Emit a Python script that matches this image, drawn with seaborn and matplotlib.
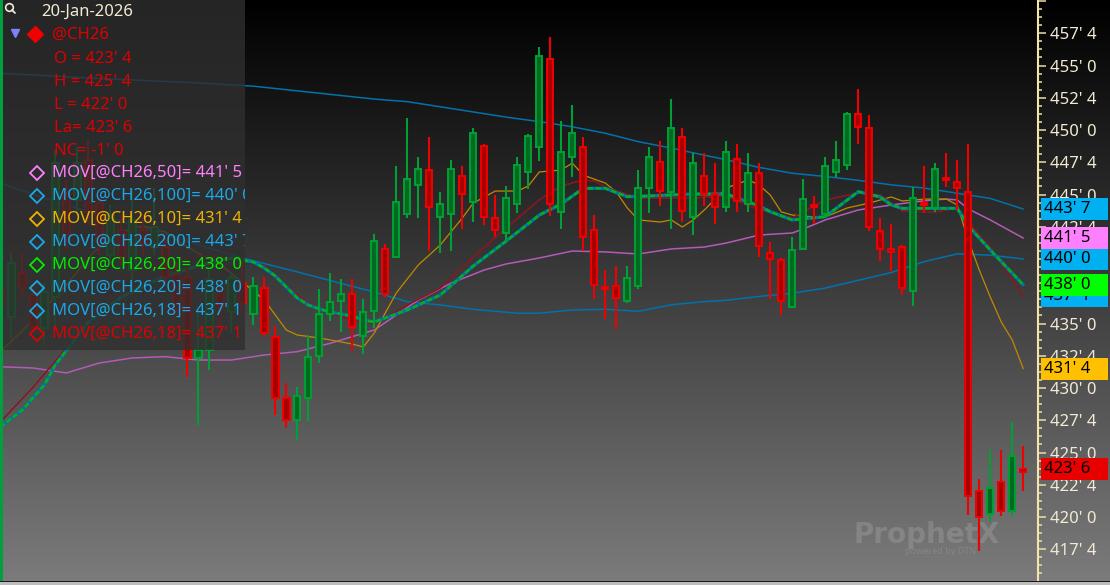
import matplotlib
matplotlib.use('Agg')
import matplotlib.pyplot as plt
import matplotlib.patches as mpatches
from matplotlib.lines import Line2D
from matplotlib.colors import LinearSegmentedColormap
from matplotlib.ticker import MultipleLocator, FuncFormatter
from matplotlib.transforms import blended_transform_factory
import numpy as np
import seaborn as sns

sns.set_theme(style='dark')
plt.rcParams['font.family'] = ['Noto Sans', 'DejaVu Sans']

# daily bars for @CH26 (price in cents, eighths shown on axis)
opens = [437.75, 435.51, 438.92, 437.21, 434.65, 437.06, 445.12, 444.58, 447.68, 444.34,
         440.31, 442.25, 439.15, 442.25, 440.93, 440.93, 438.76, 438.61, 432.33, 432.95,
         437.44, 435.89, 438.14, 435.74, 437.73, 433.98, 429.2, 427.52, 429.2, 432.48,
         435.74, 436.75, 437.27, 434.06, 435.99, 440.75, 440.18, 443.47, 445.74, 446.9,
         443.26, 443.47, 446.46, 444.44, 448.74, 443.2, 441.99, 444.24, 446.72, 448.71,
         455.48, 443.67, 447.93, 448.71, 442.25, 437.83, 437.91, 436.75, 437.93, 445.48,
         447.5, 445.22, 449.48, 443.28, 446.46, 445.02, 444.01, 447.73, 444.27, 446.69,
         440.49, 439.92, 436.26, 440.78, 444.21, 443.49, 446.77, 447.29, 451.22, 450.18,
         442.2, 440.74, 440.96, 437.55, 444.32, 443.98, 446.3, 445.99, 445.22, 422.02,
         420.21, 422.69, 420.47, 423.5]
highs = [438.22, 440.47, 440.47, 437.83, 438.14, 448.45, 446.13, 448.68, 449.23, 444.96,
         444.19, 443.41, 445.51, 443.41, 445.51, 441.86, 439.77, 439.3, 435.82, 439.15,
         438.22, 438.99, 440.08, 438.61, 438.63, 434.83, 430.39, 430.1, 434.11, 437.65,
         438.89, 438.45, 438.45, 436.9, 441.94, 441.16, 447.21, 450.91, 447.91, 449.44,
         445.17, 447.68, 447.21, 450.13, 448.92, 444.96, 445.66, 447.93, 449.69, 456.46,
         457.23, 450.72, 451.94, 449.48, 443.41, 439.15, 439.46, 439.46, 446.9, 448.71,
         449.15, 452.41, 450.13, 448.2, 448.2, 447.42, 449.15, 448.92, 448.2, 447.42,
         441.34, 440.1, 441.68, 446.18, 444.91, 447.89, 449.15, 451.42, 453.16, 451.17,
         443.16, 442.72, 441.1, 445.61, 447.21, 447.42, 448.2, 447.68, 448.92, 422.92,
         425.2, 425.2, 427.39, 425.5]
lows = [435.89, 433.72, 436.9, 434.34, 433.34, 434.5, 440.7, 443.41, 442.64, 440.31,
        439.77, 439.54, 437.6, 440.31, 440.31, 437.99, 435.43, 430.85, 427.13, 431.4,
        434.5, 434.27, 435.66, 434.89, 433.98, 427.91, 426.9, 425.97, 427.47, 431.96,
        435.22, 434.37, 432.89, 432.64, 434.65, 437.08, 440.06, 443.16, 443.16, 440.65,
        440.44, 440.65, 442.35, 442.89, 442.64, 441.68, 441.34, 443.59, 445.41, 447.62,
        443.36, 442.33, 446.38, 440.65, 436.88, 435.35, 434.58, 436.61, 437.65, 443.59,
        444.13, 442.33, 442.89, 441.89, 444.13, 442.69, 443.62, 443.62, 443.62, 440.13,
        436.9, 435.66, 436.18, 440.7, 442.69, 443.16, 446.38, 446.9, 448.89, 442.17,
        439.87, 439.1, 437.21, 436.38, 443.59, 443.65, 445.61, 443.8, 420.16, 417.39,
        419.64, 420.1, 420.1, 422.0]
closes = [436.44, 439.69, 437.75, 434.73, 437.44, 447.44, 441.86, 447.44, 443.65, 441.48,
          443.41, 440.16, 443.03, 441.24, 442.48, 438.61, 436.05, 432.33, 432.95, 438.37,
          436.2, 438.53, 436.59, 437.91, 434.24, 429.2, 427.52, 429.38, 432.43, 435.72,
          436.69, 437.27, 434.75, 435.92, 441.42, 437.27, 444.44, 446.23, 446.96, 444.06,
          444.24, 446.96, 445.04, 449.75, 443.26, 442.25, 444.71, 447.29, 449.54, 455.74,
          444.24, 448.27, 449.75, 441.73, 437.99, 437.64, 437.0, 438.51, 445.48, 447.93,
          445.27, 450.18, 443.72, 447.47, 445.02, 444.06, 448.27, 444.5, 446.69, 441.03,
          440.0, 436.77, 440.7, 444.68, 444.06, 447.23, 447.68, 451.22, 450.26, 442.51,
          440.78, 440.58, 437.73, 444.71, 444.16, 446.96, 446.15, 445.48, 421.65, 419.98,
          422.23, 420.47, 424.75, 423.75]

# moving averages at bar positions
ma200_x = [0, 9, 18, 23, 34, 37, 40, 43, 46, 49, 52, 55, 58, 61, 64, 66, 69, 72, 75, 78, 81, 84, 87, 90, 93]
ma200_y = [454.4, 454.0, 453.65, 453.4, 452.4, 452.2, 451.8, 451.4, 451.0, 450.65, 450.25, 449.75, 449.1,
           448.6, 448.05, 447.7, 447.1, 446.65, 446.4, 446.1, 445.75, 445.5, 445.1, 444.7, 443.875]
ma100_x = [0, 4.5, 10.5, 14.5, 18, 22, 27, 34, 37, 40, 43, 47, 49, 52, 55, 58, 61, 64, 66, 69, 72, 75,
           78, 81, 84, 87, 90, 93]
ma100_y = [445.89, 444.58, 443.03, 442.1, 441.09, 440.08, 439.0, 437.44, 436.69, 436.44, 436.1, 435.8,
           435.8, 436.05, 436.1, 435.95, 436.45, 436.7, 436.8, 437.1, 437.35, 437.75, 438.35, 438.95,
           439.8, 440.4, 440.3, 440.0]
ma50_x = [0, 3, 6, 9, 12, 15, 18, 21, 24, 27, 30, 34, 38, 41, 44, 46, 49, 52, 55, 58, 61, 64, 66, 69,
          72, 73, 75, 78, 81, 84, 86, 87, 88, 90, 93]
ma50_y = [431.65, 431.55, 431.17, 431.94, 432.33, 432.43, 432.17, 432.17, 432.56, 432.82, 433.47, 434.5,
          436.82, 438.14, 439.15, 439.62, 440.08, 440.62, 440.55, 440.39, 440.78, 440.93, 441.24, 441.86,
          442.02, 442.33, 443.03, 443.8, 444.19, 444.52, 444.65, 444.58, 443.88, 443.03, 441.625]
ma20_x = [0, 2, 4, 5, 8, 11, 15, 18, 21, 23, 24, 25, 26, 27, 28, 29, 30, 32, 33, 34, 37, 40, 43, 46,
          49, 51, 53, 55, 57, 59, 63, 66, 69, 70, 72, 75, 77, 78, 80, 81, 82, 87, 88, 90, 93]
ma20_y = [426.98, 428.3, 430.24, 431.79, 435.12, 437.06, 438.68, 439.46, 440.08, 439.77, 439.3, 438.68,
          437.83, 436.98, 436.44, 436.13, 435.89, 435.58, 435.27, 435.12, 436.05, 437.21, 439.46, 441.4,
          443.41, 444.27, 445.48, 445.48, 444.83, 444.89, 445.04, 445.04, 444.11, 443.67, 443.03, 443.28,
          444.58, 445.22, 444.81, 444.19, 443.93, 443.93, 442.56, 440.7, 438.0]
ma18_x = [0, 3, 6, 11, 15, 18, 21, 23, 24, 25, 27, 28, 30, 32, 34, 37, 40, 43, 46, 49, 51, 53, 54, 55,
          58, 63, 66, 69, 72, 75, 78, 80, 82, 85, 87, 89, 90, 93]
ma18_y = [427.37, 430.08, 433.1, 438.53, 439.77, 440.24, 440.24, 439.77, 439.46, 438.53, 437.21, 436.59,
          435.82, 435.27, 434.96, 436.44, 437.75, 440.16, 442.41, 444.58, 445.66, 446.13, 446.05, 445.58,
          444.73, 444.73, 444.89, 443.8, 443.18, 444.58, 445.12, 444.96, 443.72, 443.65, 443.96, 441.86,
          440.93, 437.125]
ma10_x = [0, 3, 6, 8.5, 11, 13, 15, 17, 20, 22, 24, 25, 26, 27, 29, 32, 33, 34, 36, 38, 40, 42, 43, 45,
          47, 48, 49, 51, 52, 53, 55, 56, 57, 58, 60, 61, 62, 63, 64, 66, 68, 69, 70, 71, 72, 74, 75, 77,
          79, 81, 82, 84, 86, 87, 88, 89, 90, 91, 92, 93]
ma10_y = [432.79, 435.27, 437.99, 440.55, 442.1, 442.56, 442.1, 440.93, 439.54, 438.22, 436.82, 435.66,
          434.5, 434.11, 433.88, 433.41, 433.18, 434.27, 437.37, 439.54, 441.09, 443.18, 444.34, 445.27,
          445.27, 445.66, 446.75, 446.9, 447.44, 446.5, 445.89, 445.2, 443.96, 443.03, 442.87, 443.03,
          442.48, 443.03, 443.8, 445.51, 446.13, 445.74, 444.96, 443.65, 443.41, 443.26, 443.26, 443.96,
          444.34, 444.81, 444.5, 444.65, 444.65, 444.19, 441.47, 439.15, 437.06, 435.12, 433.72, 431.5]

legend_rows = [
    ("MOV[@CH26,50]= 441' 5", '#ff80ff'),
    ("MOV[@CH26,100]= 440' 0", '#1aa8e8'),
    ("MOV[@CH26,10]= 431' 4", '#f0b400'),
    ("MOV[@CH26,200]= 443' 7", '#1aa8e8'),
    ("MOV[@CH26,20]= 438' 0", '#00ee00'),
    ("MOV[@CH26,20]= 438' 0", '#1aa8e8'),
    ("MOV[@CH26,18]= 437' 1", '#1aa8e8'),
    ("MOV[@CH26,18]= 437' 1", '#e00000'),
]
quote_rows = ["O = 423' 4", "H = 425' 4", "L = 422' 0", "La= 423' 6", "NC= -1' 0"]
# right-hand value flags (drawn bottom to top)
flags = [(437.125, "437' 1", '#00b0f0'), (438.0, "438' 0", '#00ff00'),
         (440.0, "440' 0", '#00b0f0'), (441.625, "441' 5", '#ff80ff'),
         (443.875, "443' 7", '#00b0f0'), (431.5, "431' 4", '#ffc000'),
         (423.75, "423' 6", '#e80000')]

W, H = 1110, 585
FS = 12
fig = plt.figure(figsize=(W / 100, H / 100), dpi=100)


def fx(px):
    return px / W


def fy(py):
    return 1 - py / H


# background gradient
bg = fig.add_axes([0, 0, 1, 1], zorder=-10)
grad = np.linspace(0, 1, 256).reshape(-1, 1)
bg.imshow(grad, aspect='auto', origin='upper', extent=[0, 1, 0, 1],
          cmap=LinearSegmentedColormap.from_list('bg', ['#000000', '#7c7c7c']))
bg.set_axis_off()

ax = fig.add_axes([0, fy(581), fx(1038), 581 / H])
ax.set_facecolor('none')
ax.set_xlim(-0.03, 94.34)
ax.set_ylim(415.04, 460.08)

# moving average lines
line_specs = [
    (ma200_x, ma200_y, '#0072ac', 1.1),
    (ma100_x, ma100_y, '#0072ac', 1.1),
    (ma50_x, ma50_y, '#b45ab8', 1.1),
    (ma10_x, ma10_y, '#c08a00', 0.9),
    (ma18_x, ma18_y, '#0072ac', 0.9),
    (ma18_x, ma18_y, '#b00000', 0.9),
    (ma20_x, ma20_y, '#0072ac', 2.3),
]
for xs, ys, col, lw in line_specs:
    sns.lineplot(x=xs, y=ys, ax=ax, color=col, linewidth=lw, zorder=2, sort=False)
ax.plot(ma20_x, ma20_y, color='#00b020', linewidth=1.9, dashes=(2, 1), zorder=2)

# candles
o, h, l, c = map(np.array, (opens, highs, lows, closes))
idx = np.arange(len(c))
prev = np.r_[np.nan, c[:-1]]
up = c > prev
edge = np.where(up, '#00a034', '#f00000')
fill = np.where(up, '#006a22', '#a80000')
ax.vlines(idx, l, h, colors=edge, linewidth=1.5, zorder=3)
ax.bar(idx, np.maximum(np.abs(c - o), 0.12), bottom=np.minimum(o, c), width=0.58,
       color=fill, edgecolor=edge, linewidth=1.4, zorder=4)


# right price axis
def eighths(v, pos):
    if v > 459:
        return ''
    whole = int(np.floor(v + 1e-6))
    return f"{whole}' {int(round((v - whole) * 8))}"


ax.yaxis.tick_right()
ax.yaxis.set_major_locator(MultipleLocator(2.5))
ax.yaxis.set_minor_locator(MultipleLocator(0.625))
ax.yaxis.set_major_formatter(FuncFormatter(eighths))
ax.tick_params(axis='y', which='both', right=True, left=False, direction='out',
               color='#f0dca8', width=1.1)
ax.tick_params(axis='y', which='major', length=5.8, pad=3.0, labelsize=FS, labelcolor='#f2ead4')
ax.tick_params(axis='y', which='minor', length=2.9)
ax.tick_params(axis='x', bottom=False, labelbottom=False)
ax.grid(False)
for side in ['top', 'left', 'bottom']:
    ax.spines[side].set_visible(False)
ax.spines['right'].set_color('#f5e2b0')
ax.spines['right'].set_linewidth(1.5)

trans = blended_transform_factory(ax.transAxes, ax.transData)
for k, (v, txt, col) in enumerate(flags):
    ax.add_patch(mpatches.Rectangle((1041 / 1038, v - 0.85), 67 / 1038, 1.7, transform=trans,
                                    facecolor=col, edgecolor='none', clip_on=False, zorder=10 + k))
    ax.text(1044 / 1038, v, txt, transform=trans, color='black', fontsize=FS, va='center',
            ha='left', clip_on=False, zorder=10 + k)

# watermark
ax.text(fx(853), fy(535), 'ProphetX', transform=fig.transFigure, fontsize=20, fontweight='bold',
        family='DejaVu Sans', color='white', alpha=0.14, va='center', zorder=1)
ax.text(fx(905), fy(552), 'powered by DTN', transform=fig.transFigure, fontsize=6.5,
        color='white', alpha=0.12, va='center', zorder=1)

# legend panel
panel = mpatches.Rectangle((0, fy(350)), fx(245), 350 / H, transform=fig.transFigure,
                           facecolor='#2f2f2f', alpha=0.8, edgecolor='none', zorder=5)
fig.add_artist(panel)


def panel_text(x, y, s, col):
    t = fig.text(fx(x), fy(y), s, color=col, fontsize=FS, va='center', ha='left', zorder=6)
    t.set_clip_path(panel)


def marker(x, y, m, ms, face, edgec, mew=1.0):
    fig.add_artist(Line2D([fx(x)], [fy(y)], marker=m, markersize=ms, markerfacecolor=face,
                          markeredgecolor=edgec, markeredgewidth=mew, transform=fig.transFigure,
                          zorder=6))


marker(9, 7, 'o', 5.5, 'none', '#f2ead4', 1.2)
fig.add_artist(Line2D([fx(12), fx(15)], [fy(10), fy(13)], color='#f2ead4', linewidth=1.3,
                      transform=fig.transFigure, zorder=6))
panel_text(41, 12, '20-Jan-2026', '#f2ead4')
marker(15, 33, 'v', 6, '#8080ff', '#8080ff')
marker(35, 34, 'D', 8, '#f00000', '#f00000')
panel_text(52, 35, '@CH26', '#e00000')
for k, s in enumerate(quote_rows):
    panel_text(54, 59 + 23 * k, s, '#e00000')
for k, (s, col) in enumerate(legend_rows):
    y = 173 + 23 * k
    marker(37, y, 'D', 7, 'none', col, 1.3)
    panel_text(52, y, s, col)

# left green bar and bottom scroll strip
fig.add_artist(mpatches.Rectangle((0, fy(581)), fx(3), 581 / H, transform=fig.transFigure,
                                  facecolor='#00a040', edgecolor='none', zorder=7))
fig.add_artist(mpatches.Rectangle((0, fy(582)), 1, 1 / H, transform=fig.transFigure,
                                  facecolor='#1c1c1c', edgecolor='none', zorder=7))
fig.add_artist(mpatches.Rectangle((0, 0), 1, 3 / H, transform=fig.transFigure,
                                  facecolor='#bdbdbd', edgecolor='none', zorder=7))

fig.savefig('out.png', dpi=100)
